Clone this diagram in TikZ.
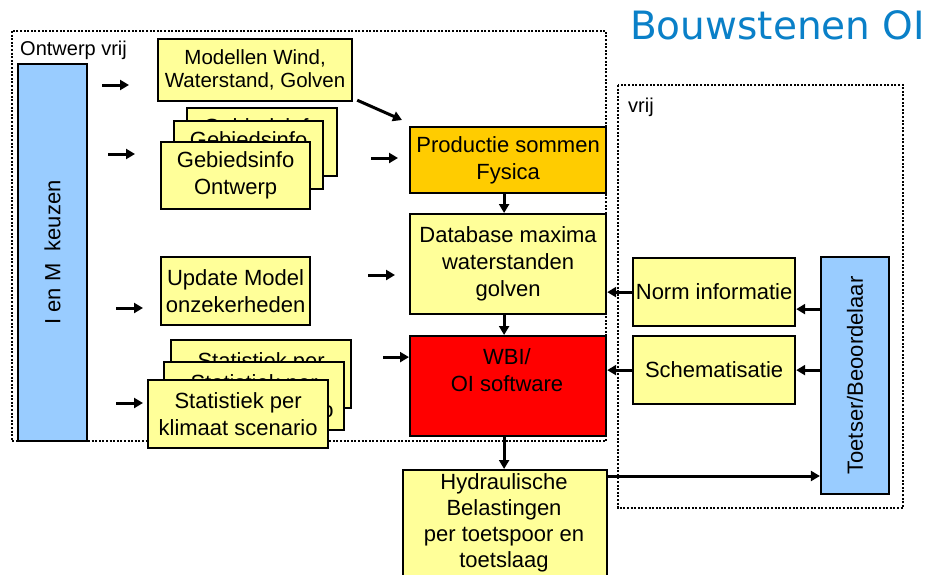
\documentclass[tikz,border=0pt]{standalone}
\usepackage{fontspec}
\setmainfont{Liberation Sans}
\newfontfamily\titlefont{DejaVu Sans}
\usetikzlibrary{arrows.meta,calc}
\definecolor{yfill}{HTML}{FFFF99}
\definecolor{ofill}{HTML}{FFCC00}
\definecolor{rfill}{HTML}{FF0000}
\definecolor{bfill}{HTML}{99CCFF}
\definecolor{titleblue}{HTML}{0A80C8}
\tikzset{
  boxbase/.style={draw, line width=2.2pt, inner sep=0pt, align=center, text=black,
    font=\fontsize{22}{27}\selectfont},
  ybox/.style={boxbase, fill=yfill, anchor=north west},
  obox/.style={boxbase, fill=ofill, anchor=north west},
  rbox/.style={boxbase, fill=rfill, anchor=north west},
  bluebox/.style={boxbase, fill=bfill, rotate=90},
  area/.style={line width=2pt, dash pattern=on 2pt off 1.6pt},
  arr/.style={line width=3pt, -{Triangle[length=9pt,width=10pt]}},
  lbl/.style={inner sep=0pt, anchor=base west, font=\fontsize{20}{24}\selectfont}
}
\begin{document}
\begin{tikzpicture}[x=1pt,y=-1pt]
\clip (0,0) rectangle (934,574);
\fill[white] (0,0) rectangle (934,574);
% dotted areas
\draw[area] (12,31) rectangle (606,441);
\draw[area] (618,85) rectangle (903,508);
\node[lbl] (ontwerp) at (20,55) {Ontwerp vrij};
\node[lbl] (vrij) at (628,112) {vrij};
\node[inner sep=0pt, anchor=base west, text=titleblue, font=\titlefont\fontsize{39}{42}\selectfont] (title) at (630,39) {Bouwstenen OI};
% left blue
\node[bluebox, minimum width=377pt, minimum height=69pt] (ienm) at (52.5,252.5) {I en M\ \ keuzen};
% left column boxes
\node[ybox, minimum width=194pt, minimum height=62pt, font=\fontsize{20.5}{23.5}\selectfont] (mod) at (157,38) {Modellen Wind,\\Waterstand, Golven};
\node[ybox, minimum width=150pt, minimum height=68pt] (geb3) at (186,107) {Gebiedsinfo\\Ontwerp};
\node[ybox, minimum width=149pt, minimum height=68pt] (geb2) at (173,120) {Gebiedsinfo\\Ontwerp};
\node[ybox, minimum width=149pt, minimum height=67pt] (geb1) at (160,141) {Gebiedsinfo\\Ontwerp};
\node[ybox, minimum width=149pt, minimum height=68pt] (upd) at (160,256) {Update Model\\onzekerheden};
\node[ybox, minimum width=180pt, minimum height=68pt] (stat3) at (170,339) {Statistiek per\\klimaat scenario};
\node[ybox, minimum width=180pt, minimum height=68pt] (stat2) at (163,361) {Statistiek per\\klimaat scenario};
\node[ybox, minimum width=180pt, minimum height=68pt] (stat1) at (147,379) {Statistiek per\\klimaat scenario};
% centre column
\node[obox, minimum width=196pt, minimum height=66pt] (prod) at (409,126) {Productie sommen\\Fysica};
\node[ybox, minimum width=196pt, minimum height=100pt] (db) at (409,213) {Database maxima\\waterstanden\\golven};
\node[rbox, minimum width=196pt, minimum height=100pt] (wbi) at (409,335) {};
\node[boxbase, draw=none, fill=none] (wbitext) at (507,370) {WBI/\\OI software};
\node[ybox, minimum width=204pt, minimum height=130pt] (hyd) at (402,469) {};
\node[boxbase, draw=none, fill=none, anchor=north, font=\fontsize{22}{26}\selectfont] (hydtext) at (504,472) {Hydraulische\\Belastingen\\per toetspoor en\\toetslaag};
% right column
\node[ybox, minimum width=162pt, minimum height=68pt] (norm) at (632,257) {Norm informatie};
\node[ybox, minimum width=162pt, minimum height=68pt] (schem) at (632,335) {Schematisatie};
\node[bluebox, minimum width=237pt, minimum height=68pt] (toets) at (855,375.5) {Toetser/Beoordelaar};
% free arrow ends
\coordinate (a1s) at (102,85);  \coordinate (a1e) at (129,85);
\coordinate (a2s) at (108,154); \coordinate (a2e) at (135,154);
\coordinate (a4s) at (371,158); \coordinate (a4e) at (398,158);
\coordinate (a5s) at (368,275); \coordinate (a5e) at (395,275);
\coordinate (a6s) at (116,308); \coordinate (a6e) at (143,308);
\coordinate (a7s) at (116,403); \coordinate (a7e) at (143,403);
\draw[arr] (a1s) -- (a1e);
\draw[arr] (a2s) -- (a2e);
\draw[arr] (a4s) -- (a4e);
\draw[arr] (a5s) -- (a5e);
\draw[arr] (a6s) -- (a6e);
\draw[arr] (a7s) -- (a7e);
\draw[arr] ([xshift=4pt,yshift=2pt]mod.south east) -- ([xshift=-7pt,yshift=6pt]prod.north west);
\draw[arr] ([xshift=-26pt,yshift=29pt]wbi.west) -- ([yshift=29pt]wbi.west);
\draw[arr] ([xshift=-4pt]prod.south) -- ([xshift=-4pt]db.north);
\draw[arr] ([xshift=-4pt]db.south) -- ([xshift=-4pt]wbi.north);
\draw[arr] ([xshift=-4pt]wbi.south) -- ([xshift=-4pt]wbi.south |- hyd.north);
\draw[arr] (norm.west) -- (norm.west -| db.east);
\draw[arr] (schem.west) -- (schem.west -| wbi.east);
\draw[arr] ([yshift=-17pt]norm.east -| toets.north) -- ([yshift=-17pt]norm.east);
\draw[arr] (schem.east -| toets.north) -- (schem.east);
\draw[arr] ([yshift=-7pt]hyd.north east) -- ([yshift=-7pt]hyd.north east -| toets.north);
\end{tikzpicture}
\end{document}
